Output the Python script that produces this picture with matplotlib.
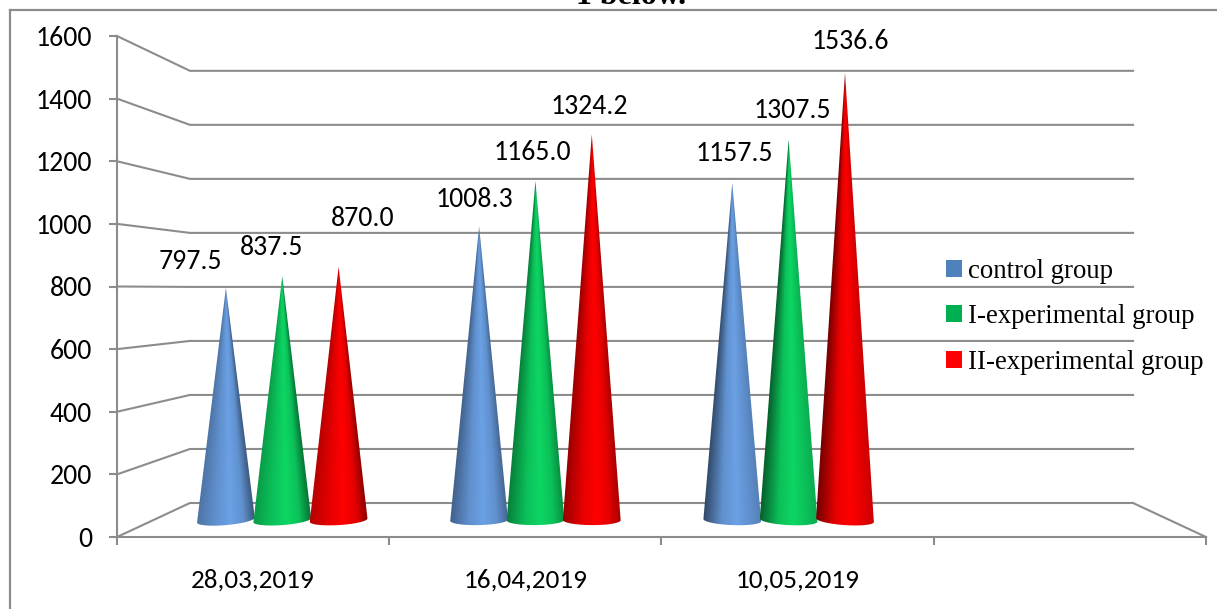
import numpy as np
import matplotlib
matplotlib.use("Agg")
import matplotlib.pyplot as plt
from matplotlib.lines import Line2D
from matplotlib.patches import Patch, Polygon

datas = ["28,03,2019", "16,04,2019", "10,05,2019"]
grupos = ["control group", "I-experimental group", "II-experimental group"]
controle = [797.5, 1008.3, 1157.5]
experimental_1 = [837.5, 1165.0, 1307.5]
experimental_2 = [870.0, 1324.2, 1536.6]
yticks = [0, 200, 400, 600, 800, 1000, 1200, 1400, 1600]

cores_legenda = ["#4f81bd", "#00b050", "#ff0000"]
cores_cone = [(0.42, 0.63, 0.90), (0.05, 0.84, 0.39), (1.0, 0.0, 0.0)]
cinza = "#8c8c8c"

W, H = 1217, 609
plt.rcParams["font.family"] = ["Carlito", "Lato", "DejaVu Sans"]

fig = plt.figure(figsize=(W / 100, H / 100), dpi=100)
ax = fig.add_axes([117 / W, 1 - 537 / H, (1206 - 117) / W, (537 - 36) / H])
ax.patch.set_alpha(0)

# moldura externa, so esquerda e topo
fig.add_artist(Line2D([10 / W, 10 / W], [0, 1 - 10 / H], color=cinza, lw=1.6))
fig.add_artist(Line2D([10 / W, 1], [1 - 10 / H, 1 - 10 / H], color=cinza, lw=1.6))
fig.text(631 / W, 1 - 4 / H, "1 below.", family="Liberation Serif", weight="bold",
         fontsize=23, ha="center", va="baseline")

# parede do fundo com perspectiva
dx_fundo = 0.268
y0_fundo = 108.6
esc_fundo = 0.8626
for v in yticks:
    yb = y0_fundo + v * esc_fundo
    ax.plot([0, dx_fundo, 4 - dx_fundo], [v, yb, yb], color=cinza, lw=1.5, zorder=1,
            clip_on=False, solid_joinstyle="miter")
yb = y0_fundo
ax.plot([4 - dx_fundo, 4], [yb, 0], color=cinza, lw=1.5, zorder=1, clip_on=False)

# cones
x_ini = 0.40
passo_grupo = 0.93
passo_serie = 0.207
meia_base = 0.106
y_base = 54
b = 16
esc_cone = 0.93
esq = [0.72, 0.6, 0.45]
dir_ = [0.55, 0.65, 0.8]
series = [controle, experimental_1, experimental_2]
offs = [[(-35, 26), (-5, 27), (2, 30)],
        [(-11, 29), (-3, 28), (4, 29)],
        [(24, 48), (-2, 28), (5, 31)]]

for j, valores in enumerate(series):
    for i, val in enumerate(valores):
        xc = x_ini + passo_grupo * i + passo_serie * j
        topo = y_base + esc_cone * val
        tilt = 6.2 * (1.68 - xc)
        t = np.linspace(np.pi, 2 * np.pi, 60)
        xs = xc + meia_base * np.cos(t)
        ys = y_base + tilt * np.cos(t) + b * np.sin(t)
        pts = [(xc, topo)] + list(zip(xs, ys))

        xx = np.linspace(xc - meia_base, xc + meia_base, 160)
        yy = np.linspace(topo, y_base - b - 10, 400)
        X, Y = np.meshgrid(xx, yy)
        larg = meia_base * np.clip((topo - Y) / (topo - y_base), 0.01, 1)
        u = np.clip(0.5 + (X - xc) / (2 * larg), 0, 1)
        f = np.interp(u, [0, 0.33, 0.58, 0.8, 1], [esq[i], 0.9, 1, 0.9, dir_[i]])
        img = np.clip(f[..., None] * np.array(cores_cone[j]), 0, 1)
        im = ax.imshow(img, extent=(xx[0], xx[-1], yy[-1], yy[0]), aspect="auto",
                       zorder=3 + j, interpolation="bilinear")
        poly = Polygon(pts, closed=True, transform=ax.transData)
        im.set_clip_path(poly)

        ax.annotate(f"{val:.1f}", (xc, topo), xytext=offs[j][i], textcoords="offset pixels",
                    ha="center", va="center", fontsize=20, color="black", zorder=8,
                    annotation_clip=False)

ax.set_xlim(0, 4)
ax.set_ylim(0, 1600)

for lado in ["top", "right"]:
    ax.spines[lado].set_visible(False)
for lado in ["left", "bottom"]:
    ax.spines[lado].set_color(cinza)
    ax.spines[lado].set_linewidth(1.5)

ax.set_yticks(yticks)
ax.set_xticks([0, 1, 2, 3, 4])
ax.set_xticklabels([])
ax.set_xticks([0.5, 1.5, 2.5], minor=True)
ax.set_xticklabels(datas, minor=True)
ax.tick_params(axis="both", which="major", length=6, width=1.5, color=cinza, labelsize=20)
ax.tick_params(axis="y", which="major", pad=12)
ax.tick_params(axis="x", which="minor", length=0, labelsize=19.5, pad=23)

handles = [Patch(facecolor=c, edgecolor="none") for c in cores_legenda]
leg = ax.legend(handles, grupos, loc="upper left", bbox_to_anchor=(0.761, 0.555),
                frameon=False, borderpad=0, borderaxespad=0, handlelength=0.6,
                handleheight=0.6, handletextpad=0.24, labelspacing=0.76,
                prop={"family": "Liberation Serif", "size": 19.3})

fig.savefig("out.png", dpi=100)
